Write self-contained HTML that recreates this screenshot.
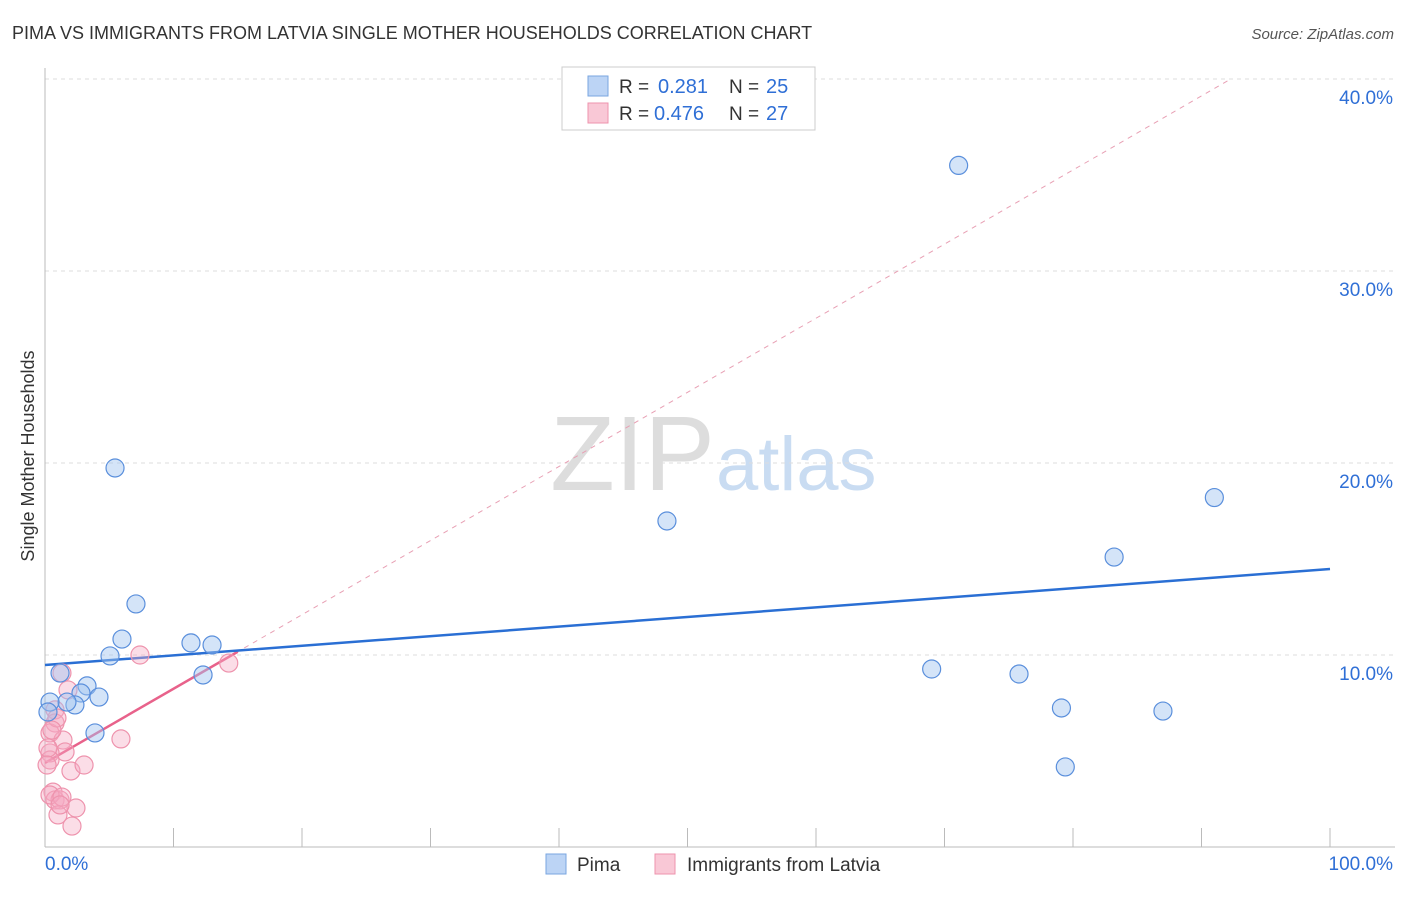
<!DOCTYPE html>
<html><head><meta charset="utf-8"><style>
body{margin:0;background:#fff;font-family:"Liberation Sans",sans-serif;}
svg text{font-family:"Liberation Sans",sans-serif;}
</style></head><body>
<svg id="c" width="1406" height="892">
<text x="12" y="39" font-size="18" fill="#333">PIMA VS IMMIGRANTS FROM LATVIA SINGLE MOTHER HOUSEHOLDS CORRELATION CHART</text>
<text x="1394" y="39" font-size="15" fill="#555" font-style="italic" text-anchor="end">Source: ZipAtlas.com</text>
<text x="0" y="0" transform="translate(34,456) rotate(-90)" font-size="18" fill="#333" text-anchor="middle">Single Mother Households</text>
<text x="715" y="490" font-size="106" fill="#ddd" text-anchor="end" font-family="Liberation Serif">ZIP</text>
<text x="716" y="490" font-size="76" fill="#c9dcf2">atlas</text>
<g id="grid"></g><g id="axes"></g><g id="lines"></g><g id="pts"></g>
<g>
<rect x="562" y="67" width="253" height="63" fill="#fff" stroke="#ccc"/>
<rect x="588" y="76" width="20" height="20" fill="#bcd4f5" stroke="#7aa6e0"/>
<text x="619" y="93" font-size="19" fill="#333">R =</text>
<text x="658" y="93" font-size="20" fill="#2f6fd6">0.281</text>
<text x="729" y="93" font-size="19" fill="#333">N =</text>
<text x="766" y="93" font-size="20" fill="#2f6fd6">25</text>
<rect x="588" y="103" width="20" height="20" fill="#f9c8d6" stroke="#ee93ad"/>
<text x="619" y="120" font-size="19" fill="#333">R =</text>
<text x="654" y="120" font-size="20" fill="#2f6fd6">0.476</text>
<text x="729" y="120" font-size="19" fill="#333">N =</text>
<text x="766" y="120" font-size="20" fill="#2f6fd6">27</text>
</g>
<g>
<rect x="546" y="854" width="20" height="20" fill="#bcd4f5" stroke="#7aa6e0"/>
<text x="577" y="871" font-size="19" fill="#333">Pima</text>
<rect x="655" y="854" width="20" height="20" fill="#f9c8d6" stroke="#ee93ad"/>
<text x="687" y="871" font-size="19" fill="#333">Immigrants from Latvia</text>
</g>
</svg>
<script>
const yTicks=[10,20,30,40];
const pimaX=[5.45,7.08,5.99,5.06,11.36,13.0,12.3,1.17,3.27,2.8,4.2,2.33,1.71,0.39,0.23,3.89,48.4,71.1,91.0,83.2,69.0,75.8,79.1,87.0,79.4];
const pimaY=[19.74,12.66,10.83,9.95,10.63,10.52,8.96,9.06,8.39,8.02,7.81,7.4,7.55,7.55,7.03,5.94,16.98,35.5,18.2,15.1,9.27,9.01,7.24,7.08,4.17];
const latX=[7.39,14.3,1.32,1.79,0.78,0.78,0.39,1.40,1.56,0.39,0.39,5.91,2.02,3.04,0.62,0.78,1.17,2.41,1.01,2.10,0.93,0.23,0.54,0.39,1.32,1.17,0.16];
const latY=[10.0,9.58,9.06,8.18,7.14,6.46,5.94,5.57,4.95,4.90,4.53,5.63,3.96,4.27,2.86,2.45,2.45,2.03,1.67,1.09,6.72,5.16,6.09,2.71,2.60,2.19,4.27];
const pimaFit=[9.48,14.48];
const latFit=[4.38,0.386];
const NS='http://www.w3.org/2000/svg';
const X=v=>45+v*12.85, Y=v=>847-v*19.2;
function mk(p,t,a){const e=document.createElementNS(NS,t);for(const k in a)e.setAttribute(k,a[k]);document.getElementById(p).appendChild(e);return e;}
yTicks.forEach(t=>{
 const g=mk('grid','line',{x1:45,x2:1395,y1:Y(t),y2:Y(t),stroke:'#ddd','stroke-dasharray':'4,4'});
 
 
 const l=mk('grid','text',{x:1393,y:Y(t)+25,'font-size':19,fill:'#2f6fd6','text-anchor':'end'});l.textContent=t.toFixed(1)+'%';
 
 
});
mk('axes','line',{x1:45,x2:45,y1:68,y2:847,stroke:'#bbb'});
mk('axes','line',{x1:45,x2:1395,y1:847,y2:847,stroke:'#bbb'});
for(let k=1;k<=10;k++){mk('axes','line',{x1:X(k*10),x2:X(k*10),y1:828,y2:847,stroke:'#bbb'});}
let t0=mk('axes','text',{x:45,y:870,'font-size':19,fill:'#2f6fd6'});t0.textContent='0.0%';


let t1=mk('axes','text',{x:1393,y:870,'font-size':19,fill:'#2f6fd6','text-anchor':'end'});t1.textContent='100.0%';


const xe=(40-latFit[0])/latFit[1];
let d=mk('lines','line',{x1:X(0),y1:Y(latFit[0]),x2:X(xe),y2:Y(40),stroke:'#e8a0b4','stroke-dasharray':'5,5','stroke-width':1});


let lp=mk('lines','line',{x1:X(0),y1:Y(latFit[0]),x2:X(15),y2:Y(latFit[0]+15*latFit[1]),stroke:'#e8628b','stroke-width':2.5});


let lb=mk('lines','line',{x1:X(0),y1:Y(pimaFit[0]),x2:X(100),y2:Y(pimaFit[1]),stroke:'#2a6fd4','stroke-width':2.5});


latX.forEach((v,i)=>{const c=mk('pts','circle',{cx:X(v),cy:Y(latY[i]),r:9,fill:'rgba(246,170,195,0.4)',stroke:'#ee93ad','stroke-width':1.2});
 
 });
pimaX.forEach((v,i)=>{const c=mk('pts','circle',{cx:X(v),cy:Y(pimaY[i]),r:9,fill:'rgba(160,195,240,0.45)',stroke:'#5a8fdc','stroke-width':1.2});
 
 });
</script>
</body></html>
